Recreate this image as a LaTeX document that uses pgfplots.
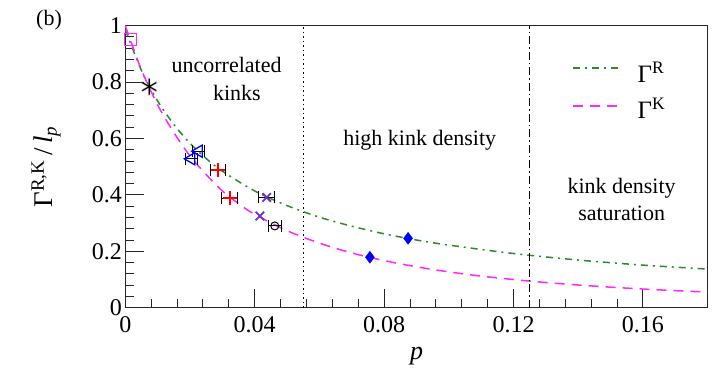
\documentclass[border=0pt]{standalone}
\usepackage{fontspec}
\setmainfont{Liberation Serif}
\usepackage{pgfplots}
\pgfplotsset{compat=1.18}
\definecolor{cgreen}{RGB}{40,140,40}
\definecolor{cmag}{RGB}{255,40,255}
\definecolor{cpurple}{RGB}{110,50,190}
\begin{document}
\begin{tikzpicture}
\begin{axis}[
  scale only axis, width=582.4pt, height=282pt,
  xmin=0, xmax=0.18, ymin=0, ymax=1,
  axis line style={line width=1pt, black!85},
  tick align=inside, xtick pos=left, ytick pos=left,
  major tick length=19pt, minor tick length=9pt,
  tick style={line width=1pt, black!85},
  xtick={0,0.04,0.08,0.12,0.16}, xticklabels={0,0.04,0.08,0.12,0.16},
  ytick={0,0.2,0.4,0.6,0.8,1}, yticklabels={0,0.2,0.4,0.6,0.8,1},
  minor x tick num=4, minor y tick num=4,
  /pgf/number format/assume math mode=true,
  ticklabel style={font=\fontsize{24}{28}\selectfont},
  xticklabel style={yshift=-5pt},
  xlabel={\textit{p}}, xlabel style={font=\fontsize{26}{28}\selectfont, at={(axis description cs:0.5,-0.128)}, anchor=north},
  ylabel={Γ\textsuperscript{R,K}\,/\,\textit{l}\textsubscript{\textit{p}}},
  ylabel style={font=\fontsize{27}{30}\selectfont, at={(axis description cs:-0.136,0.5)}, anchor=center},
  clip=false,
]
\addplot[cgreen, line width=1.5pt, dash pattern=on 7pt off 5pt on 2pt off 5pt, smooth] coordinates {
(0,0.986) (0.005,0.841) (0.01,0.733) (0.015,0.650) (0.02,0.583) (0.025,0.529)
(0.03,0.484) (0.04,0.414) (0.05,0.362) (0.06,0.321) (0.07,0.289) (0.08,0.262)
(0.09,0.240) (0.10,0.222) (0.12,0.192) (0.14,0.169) (0.16,0.151) (0.18,0.137)};
\addplot[cmag, line width=1.5pt, dash pattern=on 10pt off 7pt, smooth] coordinates {
(0,1.0) (0.005,0.843) (0.01,0.719) (0.015,0.621) (0.02,0.538) (0.025,0.472)
(0.03,0.414) (0.035,0.369) (0.04,0.331) (0.05,0.273) (0.06,0.229) (0.07,0.194)
(0.08,0.167) (0.09,0.145) (0.10,0.127) (0.11,0.112) (0.12,0.0998) (0.13,0.0893)
(0.14,0.0804) (0.15,0.0728) (0.16,0.0662) (0.17,0.0604) (0.18,0.0554)};
% legend (drawn by hand)
\draw[cgreen, line width=1.5pt, dash pattern=on 7pt off 5pt on 2pt off 5pt] (axis cs:0.1383,0.850) -- (axis cs:0.1522,0.850);
\draw[cmag, line width=1.5pt, dash pattern=on 10pt off 7pt] (axis cs:0.1383,0.715) -- (axis cs:0.1522,0.715);
\node[anchor=base west, inner sep=0pt, font=\fontsize{25}{28}\selectfont] at (axis cs:0.1583,0.800) {Γ\textsuperscript{R}};
\node[anchor=base west, inner sep=0pt, font=\fontsize{25}{28}\selectfont] at (axis cs:0.1583,0.670) {Γ\textsuperscript{K}};
% vertical region separators
\addplot[black, line width=1pt, dash pattern=on 1.5pt off 3pt] coordinates {(0.055,0) (0.055,1)};
\addplot[black, line width=0.8pt, dash pattern=on 8pt off 3pt on 1.5pt off 3pt] coordinates {(0.125,0) (0.125,1)};
% markers
\addplot[only marks, cmag, mark=square, mark size=6pt, line width=1.3pt] coordinates {(0.0015,0.95)};
\addplot[only marks, black!50, mark=asterisk, mark size=9pt, line width=2.5pt, opacity=0.4] coordinates {(0.0074,0.784)};
\addplot[only marks, black, mark=asterisk, mark size=8pt, line width=1.1pt] coordinates {(0.0074,0.784)};
\addplot[only marks, blue, mark=triangle, mark size=7pt, line width=1.3pt, mark options={rotate=90},
  error bars/.cd, x dir=both, x explicit, error bar style={black, line width=0.9pt},
  error mark options={rotate=90, black, mark size=6pt, line width=0.9pt}] coordinates {
(0.0204,0.528) +- (0.0018,0) (0.0227,0.555) +- (0.0018,0)};
\addplot[only marks, red, mark=+, mark size=7pt, line width=1.8pt,
  error bars/.cd, x dir=both, x explicit, error bar style={black, line width=0.9pt},
  error mark options={rotate=90, black, mark size=6pt, line width=0.9pt}] coordinates {
(0.0287,0.488) +- (0.0023,0) (0.0323,0.388) +- (0.0025,0)};
\addplot[only marks, cpurple, mark=x, mark size=6pt, line width=1.8pt,
  error bars/.cd, x dir=both, x explicit, error bar style={black, line width=0.9pt},
  error mark options={rotate=90, black, mark size=6pt, line width=0.9pt}] coordinates {
(0.0437,0.391) +- (0.0025,0)};
\addplot[only marks, cpurple, mark=x, mark size=6pt, line width=1.8pt] coordinates {(0.0416,0.325)};
\addplot[only marks, black, mark=o, mark size=4pt, line width=1pt,
  error bars/.cd, x dir=both, x explicit, error bar style={black, line width=0.9pt},
  error mark options={rotate=90, black, mark size=6pt, line width=0.9pt}] coordinates {
(0.0462,0.29) +- (0.002,0)};
\addplot[only marks, blue, mark=diamond*, mark size=6pt] coordinates {(0.0756,0.179) (0.0874,0.246)};
% texts
\node[font=\fontsize{22}{26}\selectfont] at (axis cs:0.0313,0.861) {uncorrelated};
\node[font=\fontsize{22}{26}\selectfont] at (axis cs:0.0345,0.761) {kinks};
\node[font=\fontsize{22}{26}\selectfont] at (axis cs:0.0910,0.595) {high kink density};
\node[font=\fontsize{22}{26}\selectfont] at (axis cs:0.1534,0.425) {kink density};
\node[font=\fontsize{22}{26}\selectfont] at (axis cs:0.1534,0.336) {saturation};
\node[font=\fontsize{22}{26}\selectfont] at (rel axis cs:-0.131,1.020) {(b)};
\end{axis}
\path ([xshift=-125.3pt,yshift=-61.3pt]current axis.south west) rectangle ([xshift=10.3pt,yshift=25.7pt]current axis.north east);
\end{tikzpicture}
\end{document}
